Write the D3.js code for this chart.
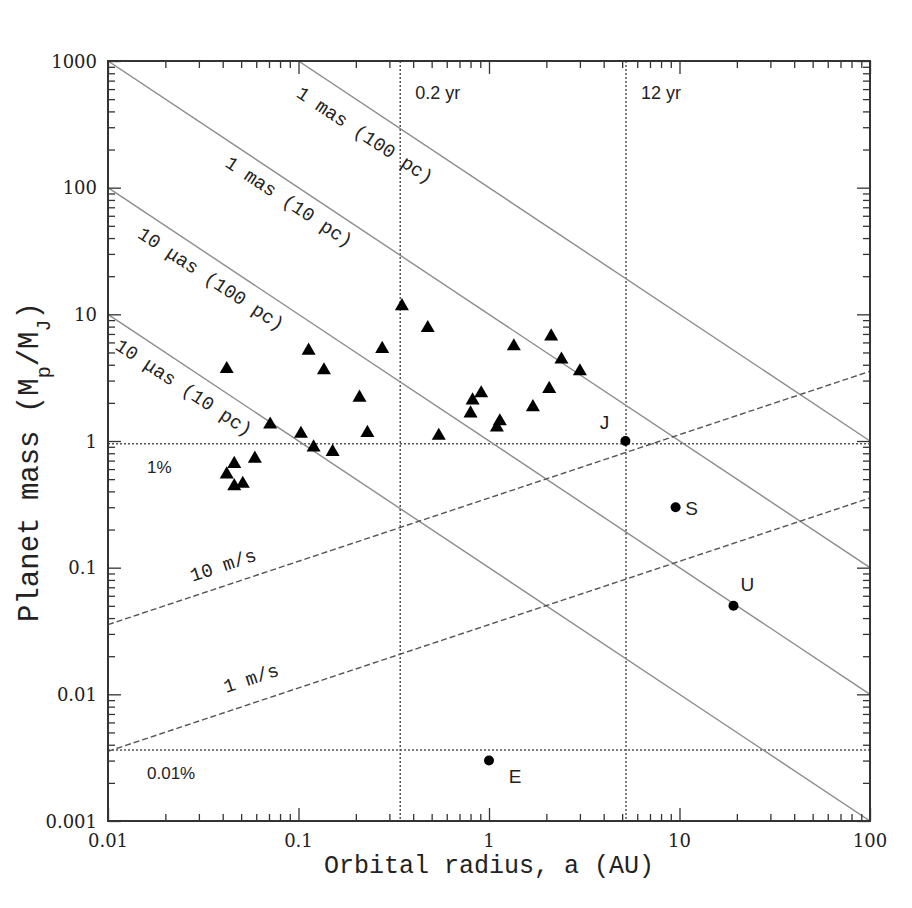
<!DOCTYPE html>
<html>
<head>
<meta charset="utf-8">
<script src="https://cdn.jsdelivr.net/npm/d3@7"></script>
<style>
  body { margin: 0; background: #fff; }
  .tick line { stroke: #333; stroke-width: 1.3; }
</style>
</head>
<body>
<div id="chart"></div>
<script>
// known planets (triangles)
const planetA = [0.042, 0.113, 0.136, 0.071, 0.103, 0.120, 0.151, 0.209, 0.230, 0.275,
                 0.349, 0.477, 0.545, 0.046, 0.042, 0.046, 0.051, 0.059,
                 1.35, 2.12, 2.40, 3.00, 2.07, 1.70, 0.91, 0.82, 0.80, 1.14, 1.10];
const planetM = [3.7, 5.17, 3.62, 1.35, 1.14, 0.89, 0.82, 2.2, 1.16, 5.34,
                 11.6, 7.8, 1.10, 0.66, 0.545, 0.44, 0.46, 0.725,
                 5.6, 6.7, 4.4, 3.55, 2.58, 1.85, 2.38, 2.09, 1.65, 1.43, 1.28];

// solar system planets
const solarNames = ["J", "S", "U", "E"];
const solarA = [5.2, 9.54, 19.2, 1.0];
const solarM = [1.0, 0.3, 0.05, 0.003];

// astrometric limits (solid)
const astroLabels = ["1 mas (100 pc)", "1 mas (10 pc)", "10 \u03bcas (100 pc)", "10 \u03bcas (10 pc)"];
const astroStart = [[0.1, 1000], [0.01, 1000], [0.01, 100], [0.01, 10]];
const astroEnd = [[100, 1], [100, 0.1], [100, 0.01], [100, 0.001]];

// radial velocity limits (dashed)
const rvLabels = ["10 m/s", "1 m/s"];
const rvStart = [[0.01, 0.0355], [0.01, 0.00355]];
const rvEnd = [[100, 3.55], [100, 0.355]];

// period limits (vertical dotted) and transit depth (horizontal dotted)
const periodLabels = ["0.2 yr", "12 yr"];
const periodA = [0.342, 5.24];
const transitLabels = ["1%", "0.01%"];
const transitM = [0.95, 0.00364];

// ticks
const xTicks = [0.01, 0.1, 1, 10, 100];
const xTickLabels = ["0.01", "0.1", "1", "10", "100"];
const yTicks = [0.001, 0.01, 0.1, 1, 10, 100, 1000];
const yTickLabels = ["0.001", "0.01", "0.1", "1", "10", "100", "1000"];

const W = 912, H = 908;
const mLeft = 108, mRight = 870, mTop = 61, mBottom = 821;

const svg = d3.select("#chart").append("svg")
    .attr("width", W).attr("height", H)
    .style("font-family", "'DejaVu Serif', serif");

const x = d3.scaleLog().domain([0.01, 100]).range([mLeft, mRight]);
const y = d3.scaleLog().domain([0.001, 1000]).range([mBottom, mTop]);

svg.append("defs").append("clipPath").attr("id", "clip")
  .append("rect").attr("x", mLeft).attr("y", mTop)
  .attr("width", mRight - mLeft).attr("height", mBottom - mTop);

const body = svg.append("g").attr("clip-path", "url(#clip)");

// minor tick values between decades
const isMajor = d => Math.abs(Math.log10(d) - Math.round(Math.log10(d))) < 1e-6;
const xMinor = x.ticks().filter(d => !isMajor(d));
const yMinor = y.ticks().filter(d => !isMajor(d));

function tickAxis(axis, scale, vals, size, tr) {
  const g = svg.append("g").attr("transform", tr)
    .call(axis(scale).tickValues(vals).tickSize(size).tickFormat(""));
  g.select(".domain").remove();
}
tickAxis(d3.axisBottom, x, xTicks, -13, "translate(0," + mBottom + ")");
tickAxis(d3.axisBottom, x, xMinor, -7, "translate(0," + mBottom + ")");
tickAxis(d3.axisTop, x, xTicks, -13, "translate(0," + mTop + ")");
tickAxis(d3.axisTop, x, xMinor, -7, "translate(0," + mTop + ")");
tickAxis(d3.axisLeft, y, yTicks, -13, "translate(" + mLeft + ",0)");
tickAxis(d3.axisLeft, y, yMinor, -7, "translate(" + mLeft + ",0)");
tickAxis(d3.axisRight, y, yTicks, -13, "translate(" + mRight + ",0)");
tickAxis(d3.axisRight, y, yMinor, -7, "translate(" + mRight + ",0)");

// dotted period & transit lines
body.selectAll("line.period").data(periodA).enter().append("line")
  .attr("x1", d => x(d)).attr("x2", d => x(d))
  .attr("y1", mTop).attr("y2", mBottom)
  .attr("stroke", "#555").attr("stroke-width", 1.5).attr("stroke-dasharray", "2,2");
body.selectAll("line.transit").data(transitM).enter().append("line")
  .attr("x1", mLeft).attr("x2", mRight)
  .attr("y1", d => y(d)).attr("y2", d => y(d))
  .attr("stroke", "#555").attr("stroke-width", 1.5).attr("stroke-dasharray", "2,2");

// astrometric lines
body.selectAll("line.astro").data(astroStart).enter().append("line")
  .attr("x1", d => x(d[0])).attr("y1", d => y(d[1]))
  .attr("x2", (d, i) => x(astroEnd[i][0])).attr("y2", (d, i) => y(astroEnd[i][1]))
  .attr("stroke", "#8c8c8c").attr("stroke-width", 1.4);

// rv lines
body.selectAll("line.rv").data(rvStart).enter().append("line")
  .attr("x1", d => x(d[0])).attr("y1", d => y(d[1]))
  .attr("x2", (d, i) => x(rvEnd[i][0])).attr("y2", (d, i) => y(rvEnd[i][1]))
  .attr("stroke", "#555").attr("stroke-width", 1.4).attr("stroke-dasharray", "6,3");

// labels along the sloped lines
function lineLabel(text, p0, p1, atA, off) {
  const x0 = x(p0[0]), y0 = y(p0[1]), x1 = x(p1[0]), y1 = y(p1[1]);
  const px = x(atA);
  const py = y0 + (px - x0) * (y1 - y0) / (x1 - x0);
  const ang = Math.atan2(y1 - y0, x1 - x0) * 180 / Math.PI;
  svg.append("text")
    .attr("transform", "translate(" + px + "," + py + ") rotate(" + ang + ")")
    .attr("x", 0).attr("y", off)
    .attr("text-anchor", "middle").attr("dominant-baseline", "central")
    .style("font-family", "'Liberation Mono', monospace")
    .style("font-size", "19px").attr("fill", "#222")
    .text(text);
}
const astroLabelAt = [0.264, 0.1, 0.0395, 0.0284];
const astroOff = [26, 18, 20, 20];
astroLabels.forEach((t, i) => lineLabel(t, astroStart[i], astroEnd[i], astroLabelAt[i], astroOff[i]));
const rvLabelAt = [0.0434, 0.0619];
const rvOff = [-19, -23];
rvLabels.forEach((t, i) => lineLabel(t, rvStart[i], rvEnd[i], rvLabelAt[i], rvOff[i]));

// period / transit labels
svg.selectAll("text.per").data(periodLabels).enter().append("text")
  .attr("x", (d, i) => x(periodA[i]) + 15).attr("y", 99)
  .style("font-family", "'Liberation Sans', Arial, sans-serif").style("font-size", "18px")
  .attr("fill", "#222").text(d => d);
svg.selectAll("text.tr").data(transitLabels).enter().append("text")
  .attr("x", 147).attr("y", (d, i) => y(transitM[i]) + 29)
  .style("font-family", "'Liberation Sans', Arial, sans-serif").style("font-size", "17px")
  .attr("fill", "#222").text(d => d);

// triangles
body.selectAll("path.planet").data(planetA).enter().append("path")
  .attr("transform", (d, i) => "translate(" + x(d) + "," + y(planetM[i]) + ")")
  .attr("d", d3.symbol(d3.symbolTriangle).size(85))
  .attr("fill", "#000");

// solar system
body.selectAll("circle.sol").data(solarA).enter().append("circle")
  .attr("cx", d => x(d)).attr("cy", (d, i) => y(solarM[i]))
  .attr("r", 5).attr("fill", "#000");
const solarDx = [-21, 16, 14, 26];
const solarDy = [-19, 1, -21, 16];
svg.selectAll("text.sol").data(solarNames).enter().append("text")
  .attr("x", (d, i) => x(solarA[i]) + solarDx[i])
  .attr("y", (d, i) => y(solarM[i]) + solarDy[i])
  .attr("text-anchor", "middle").attr("dominant-baseline", "central")
  .style("font-family", "'Liberation Sans', Arial, sans-serif").style("font-size", "19px")
  .attr("fill", "#222").text(d => d);

// frame
svg.append("rect").attr("x", mLeft).attr("y", mTop)
  .attr("width", mRight - mLeft).attr("height", mBottom - mTop)
  .attr("fill", "none").attr("stroke", "#333").attr("stroke-width", 2);

// tick labels
svg.selectAll("text.xt").data(xTicks).enter().append("text")
  .attr("x", d => x(d)).attr("y", 847)
  .attr("text-anchor", "middle").style("font-size", "18px").attr("fill", "#222")
  .text((d, i) => xTickLabels[i]);
svg.selectAll("text.yt").data(yTicks).enter().append("text")
  .attr("x", mLeft - 11).attr("y", d => y(d))
  .attr("text-anchor", "end").attr("dominant-baseline", "central")
  .style("font-size", "18px").attr("fill", "#222")
  .text((d, i) => yTickLabels[i]);

// axis titles
svg.append("text")
  .attr("x", (mLeft + mRight) / 2).attr("y", 873)
  .attr("text-anchor", "middle")
  .style("font-family", "'Liberation Mono', monospace").style("font-size", "25px")
  .attr("fill", "#222")
  .text("Orbital radius, a (AU)");

const yt = svg.append("text")
  .attr("transform", "translate(38,462) rotate(-90)")
  .attr("text-anchor", "middle")
  .style("font-family", "'Liberation Mono', monospace").style("font-size", "29px")
  .attr("fill", "#222");
yt.append("tspan").text("Planet mass (M");
yt.append("tspan").attr("baseline-shift", "sub").style("font-size", "20px").text("p");
yt.append("tspan").text("/M");
yt.append("tspan").attr("baseline-shift", "sub").style("font-size", "20px").text("J");
yt.append("tspan").text(")");
</script>
</body>
</html>
